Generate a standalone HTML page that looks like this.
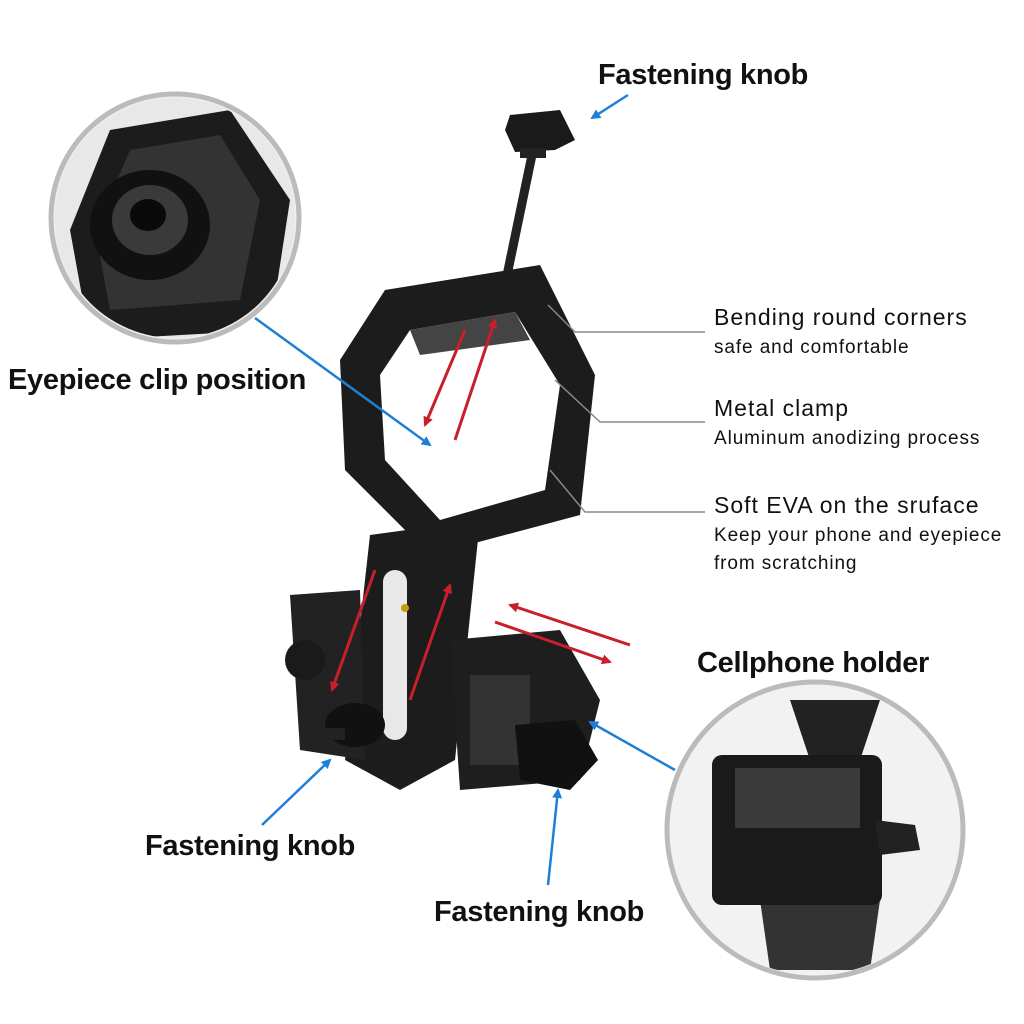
<!DOCTYPE html>
<html><head><meta charset="utf-8"><style>
html,body{margin:0;padding:0;background:#fff;width:1024px;height:1024px;overflow:hidden}
svg{display:block}
.b{font-family:"Liberation Sans",Arial,sans-serif;font-weight:bold;fill:#111}
.n{font-family:"Liberation Sans",Arial,sans-serif;fill:#111}
</style></head><body>
<svg width="1024" height="1024" viewBox="0 0 1024 1024" xmlns="http://www.w3.org/2000/svg">
<defs>
<marker id="ab" markerWidth="10" markerHeight="10" refX="8" refY="5" orient="auto" markerUnits="userSpaceOnUse"><path d="M0,0 L10,5 L0,10 z" fill="#1f7fd6"/></marker>
<marker id="ar" markerWidth="10" markerHeight="10" refX="8" refY="5" orient="auto" markerUnits="userSpaceOnUse"><path d="M0,0 L10,5 L0,10 z" fill="#c8202a"/></marker>
<clipPath id="c1"><circle cx="175" cy="218" r="120"/></clipPath>
<clipPath id="c2"><circle cx="815" cy="830" r="145"/></clipPath>
</defs>
<circle cx="175" cy="218" r="124" fill="#eee" stroke="#bbb" stroke-width="5"/>
<g clip-path="url(#c1)">
<rect x="40" y="90" width="270" height="260" fill="#e8e8e8"/>
<path d="M110,130 L230,110 L290,200 L270,330 L90,340 L70,230 z" fill="#1c1c1c"/>
<path d="M130,150 L220,135 L260,200 L240,300 L110,310 L95,230z" fill="#333"/>
<ellipse cx="150" cy="225" rx="60" ry="55" fill="#111"/>
<ellipse cx="150" cy="220" rx="38" ry="35" fill="#3a3a3a"/>
<ellipse cx="148" cy="215" rx="18" ry="16" fill="#0a0a0a"/>
</g>
<circle cx="815" cy="830" r="148" fill="#f2f2f2" stroke="#bbb" stroke-width="5"/>
<g clip-path="url(#c2)">
<path d="M790,700 L880,700 L860,760 L810,760z" fill="#222"/>
<path d="M760,900 L880,900 L870,970 L770,970z" fill="#333"/>
<rect x="712" y="755" width="170" height="150" rx="10" fill="#1a1a1a"/>
<rect x="735" y="768" width="125" height="60" fill="#3a3a3a"/>
<path d="M875,820 L915,825 L920,850 L880,855z" fill="#222"/>
</g>
<path d="M510,115 L560,110 L575,140 L555,150 L515,152 L505,130z" fill="#1a1a1a"/>
<rect x="520" y="148" width="26" height="10" fill="#222"/>
<line x1="532" y1="155" x2="505" y2="285" stroke="#222" stroke-width="9"/>
<path d="M385,290 L540,265 L595,375 L580,515 L430,555 L345,470 L340,360z" fill="#1c1c1c"/>
<path d="M410,330 L515,312 L560,385 L545,490 L440,520 L385,460 L380,375z" fill="#fff"/>
<path d="M410,330 L515,312 L530,340 L420,355z" fill="#444"/>
<path d="M370,535 L480,520 L455,760 L400,790 L345,760z" fill="#1c1c1c"/>
<rect x="383" y="570" width="24" height="170" rx="12" fill="#e8e8e8"/>
<path d="M290,595 L360,590 L365,760 L300,750z" fill="#222"/>
<circle cx="305" cy="660" r="20" fill="#1a1a1a"/>
<path d="M450,640 L560,630 L600,700 L580,780 L460,790z" fill="#1e1e1e"/>
<rect x="470" y="675" width="60" height="90" fill="#333"/>
<ellipse cx="355" cy="725" rx="30" ry="22" fill="#111"/>
<rect x="305" y="728" width="40" height="12" fill="#222"/>
<path d="M515,725 L575,720 L598,760 L570,790 L520,780z" fill="#111"/>
<circle cx="405" cy="608" r="4" fill="#c90"/>
<line x1="465" y1="330" x2="425" y2="425" stroke="#c8202a" stroke-width="3" marker-end="url(#ar)"/>
<line x1="455" y1="440" x2="495" y2="320" stroke="#c8202a" stroke-width="3" marker-end="url(#ar)"/>
<line x1="375" y1="570" x2="332" y2="690" stroke="#c8202a" stroke-width="3" marker-end="url(#ar)"/>
<line x1="410" y1="700" x2="450" y2="585" stroke="#c8202a" stroke-width="3" marker-end="url(#ar)"/>
<line x1="630" y1="645" x2="510" y2="605" stroke="#c8202a" stroke-width="3" marker-end="url(#ar)"/>
<line x1="495" y1="622" x2="610" y2="662" stroke="#c8202a" stroke-width="3" marker-end="url(#ar)"/>
<line x1="628" y1="95" x2="592" y2="118" stroke="#1f7fd6" stroke-width="2.5" marker-end="url(#ab)"/>
<line x1="255" y1="318" x2="430" y2="445" stroke="#1f7fd6" stroke-width="2.5" marker-end="url(#ab)"/>
<line x1="262" y1="825" x2="330" y2="760" stroke="#1f7fd6" stroke-width="2.5" marker-end="url(#ab)"/>
<line x1="548" y1="885" x2="558" y2="790" stroke="#1f7fd6" stroke-width="2.5" marker-end="url(#ab)"/>
<line x1="675" y1="770" x2="590" y2="722" stroke="#1f7fd6" stroke-width="2.5" marker-end="url(#ab)"/>
<polyline points="548,305 575,332 705,332" fill="none" stroke="#888" stroke-width="1.5"/>
<polyline points="555,380 600,422 705,422" fill="none" stroke="#888" stroke-width="1.5"/>
<polyline points="550,470 585,512 705,512" fill="none" stroke="#888" stroke-width="1.5"/>
<text x="598" y="84" class="b" font-size="29" letter-spacing="-0.3">Fastening knob</text>
<text x="8" y="389" class="b" font-size="29" letter-spacing="-0.3">Eyepiece clip position</text>
<text x="697" y="672" class="b" font-size="29" letter-spacing="-0.3">Cellphone holder</text>
<text x="145" y="855" class="b" font-size="29" letter-spacing="-0.3">Fastening knob</text>
<text x="434" y="921" class="b" font-size="29" letter-spacing="-0.3">Fastening knob</text>
<text x="714" y="325" class="n" font-size="23" letter-spacing="1.0">Bending round corners</text>
<text x="714" y="353" class="n" font-size="19" letter-spacing="0.9">safe and comfortable</text>
<text x="714" y="416" class="n" font-size="23" letter-spacing="1.0">Metal clamp</text>
<text x="714" y="444" class="n" font-size="19" letter-spacing="0.9">Aluminum anodizing process</text>
<text x="714" y="513" class="n" font-size="23" letter-spacing="1.0">Soft EVA on the sruface</text>
<text x="714" y="541" class="n" font-size="19" letter-spacing="0.9">Keep your phone and eyepiece</text>
<text x="714" y="569" class="n" font-size="19" letter-spacing="0.9">from scratching</text>
</svg>
</body></html>
